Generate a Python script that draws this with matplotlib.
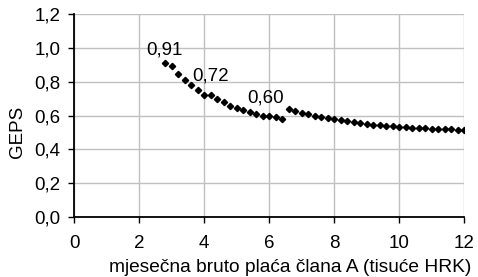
import matplotlib
matplotlib.use("Agg")
from matplotlib import pyplot as plt
from matplotlib.ticker import FuncFormatter

# monthly gross salary of member A (thousand HRK) and GEPS values
x_part1 = [2.8, 3.0, 3.2, 3.4, 3.6, 3.8, 4.0, 4.2, 4.4, 4.6, 4.8, 5.0, 5.2,
           5.4, 5.6, 5.8, 6.0, 6.2, 6.4]
geps_part1 = [0.913, 0.892, 0.848, 0.811, 0.779, 0.749, 0.724, 0.722, 0.700,
              0.678, 0.658, 0.643, 0.631, 0.619, 0.607, 0.599, 0.599, 0.591,
              0.581]
x_part2 = [6.6, 6.8, 7.0, 7.2, 7.4, 7.6, 7.8, 8.0, 8.2, 8.4, 8.6, 8.8, 9.0,
           9.2, 9.4, 9.6, 9.8, 10.0, 10.2, 10.4, 10.6, 10.8, 11.0, 11.2, 11.4,
           11.6, 11.8, 12.0]
geps_part2 = [0.637, 0.625, 0.615, 0.607, 0.599, 0.591, 0.587, 0.581, 0.573,
              0.567, 0.561, 0.556, 0.552, 0.546, 0.542, 0.538, 0.536, 0.532,
              0.530, 0.528, 0.526, 0.524, 0.522, 0.522, 0.520, 0.518, 0.516,
              0.514]

label_texts = ["0,91", "0,72", "0,60"]
label_x = [2.78, 4.2, 5.9]
label_y = [0.99, 0.835, 0.705]

plt.rcParams['font.family'] = ['Liberation Sans', 'DejaVu Sans']
plt.rcParams['font.size'] = 13.5

fig = plt.figure(figsize=(4.78, 2.77), dpi=100)
ax = fig.add_axes([0.155, 0.218, 0.816, 0.730])

ax.plot(x_part1 + x_part2, geps_part1 + geps_part2, linestyle='none',
        marker='D', markersize=3.2, color='black', zorder=3)

for t, lx, ly in zip(label_texts, label_x, label_y):
    ax.text(lx, ly, t, ha='center', va='center', fontsize=13.5)

ax.set_xlim(0, 12)
ax.set_ylim(0, 1.2)
ax.set_xticks(range(0, 13, 2))
ax.set_yticks([0, 0.2, 0.4, 0.6, 0.8, 1.0, 1.2])
ax.yaxis.set_major_formatter(FuncFormatter(lambda v, p: f"{v:.1f}".replace('.', ',')))

ax.grid(True, color='#c0c0c0', linewidth=1)
ax.set_axisbelow(True)
for s in ['top', 'right']:
    ax.spines[s].set_visible(False)
for s in ['left', 'bottom']:
    ax.spines[s].set_linewidth(1.3)
    ax.spines[s].set_color('black')
ax.tick_params(axis='both', direction='out', length=4, width=1)
ax.tick_params(axis='x', pad=9)
ax.tick_params(axis='y', pad=6)

ax.set_xlabel("mjesečna bruto plaća člana A (tisuće HRK)", fontsize=13.8)
ax.xaxis.set_label_coords(0.554, -0.253)
ax.xaxis.label.set_va('center')
ax.set_ylabel("GEPS")
ax.yaxis.set_label_coords(-0.146, 0.418)
ax.yaxis.label.set_va('center')

fig.savefig("out.png", dpi=100)
